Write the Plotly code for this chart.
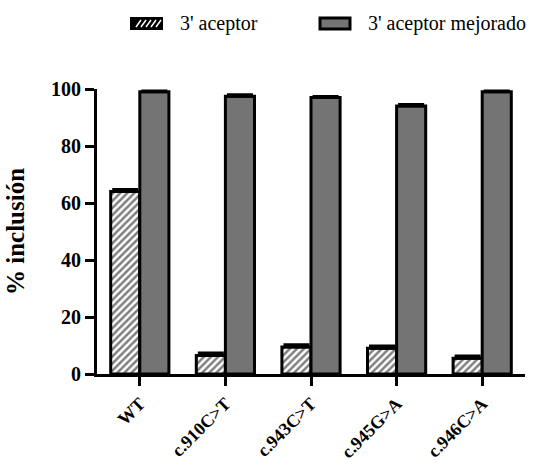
import plotly.graph_objects as go

categories = ["WT", "c.910C>T", "c.943C>T", "c.945G>A", "c.946C>A"]
aceptor = [64, 6.5, 9.5, 9.0, 5.5]
aceptor_err = [0.7, 0.9, 0.8, 0.8, 0.8]
mejorado = [99, 97.5, 97, 94, 99]
mejorado_err = [0.3, 0.5, 0.4, 0.6, 0.3]
series_names = ["3' aceptor", "3' aceptor mejorado"]

SERIF = "Liberation Serif"
GRAY = "#747474"

fig = go.Figure()
fig.add_trace(go.Bar(
    x=categories, y=aceptor, name=series_names[0],
    marker=dict(color="white", line=dict(color="black", width=3),
                pattern=dict(shape="/", fgcolor="black", bgcolor="white",
                             size=5, solidity=0.5)),
    error_y=dict(type="data", array=aceptor_err, symmetric=False,
                 arrayminus=[0] * len(aceptor_err),
                 color="black", thickness=3, width=13),
    cliponaxis=False,
))
fig.add_trace(go.Bar(
    x=categories, y=mejorado, name=series_names[1],
    marker=dict(color=GRAY, line=dict(color="black", width=3)),
    error_y=dict(type="data", array=mejorado_err, symmetric=False,
                 arrayminus=[0] * len(mejorado_err),
                 color="black", thickness=3, width=13),
    cliponaxis=False,
))

# plot-area edges in pixels, used to place the legend swatches
L, R, T, B = 97, 525, 89, 374
def px(x):
    return (x - L) / (R - L)
def py(y):
    return (B - y) / (B - T)

shapes = []
annotations = []
# hatched swatch
shapes.append(dict(type="rect", xref="paper", yref="paper",
                   x0=px(131), x1=px(162), y0=py(29), y1=py(18),
                   fillcolor="black", line=dict(color="black", width=2)))
for sx in range(136, 160, 5):
    shapes.append(dict(type="line", xref="paper", yref="paper",
                       x0=px(sx), y0=py(27), x1=px(sx + 5), y1=py(20),
                       line=dict(color="white", width=1.5)))
# gray swatch
shapes.append(dict(type="rect", xref="paper", yref="paper",
                   x0=px(320), x1=px(350), y0=py(29), y1=py(18),
                   fillcolor=GRAY, line=dict(color="black", width=3)))
for x_px, name in ((178, series_names[0]), (366, series_names[1])):
    annotations.append(dict(xref="paper", yref="paper", x=px(x_px), y=py(24),
                            text=name, showarrow=False,
                            xanchor="left", yanchor="middle",
                            font=dict(family=SERIF, size=20, color="black")))

fig.update_layout(
    width=534, height=465,
    margin=dict(l=L, r=534 - R, t=T, b=465 - B, autoexpand=False),
    paper_bgcolor="white", plot_bgcolor="white",
    barmode="group", bargap=0.32, bargroupgap=0,
    showlegend=False,
    shapes=shapes, annotations=annotations,
    font=dict(family=SERIF, color="black"),
)
fig.update_xaxes(
    range=[-0.5, 4.5], showline=True, linecolor="black", linewidth=3,
    ticks="outside", ticklen=9, tickwidth=2.5, tickcolor="black",
    tickangle=-45, showgrid=False, zeroline=False,
    tickfont=dict(family=SERIF, size=18, color="black", weight="bold"),
)
fig.update_yaxes(
    range=[0, 100], showline=True, linecolor="black", linewidth=3,
    ticks="outside", ticklen=9, tickwidth=2.5, tickcolor="black",
    tickvals=[0, 20, 40, 60, 80, 100], showgrid=False, zeroline=False,
    tickfont=dict(family=SERIF, size=20, color="black", weight="bold"),
    title=dict(text="% inclusión", standoff=20,
               font=dict(family=SERIF, size=25, color="black", weight="bold")),
)

fig.write_html("out.html")
